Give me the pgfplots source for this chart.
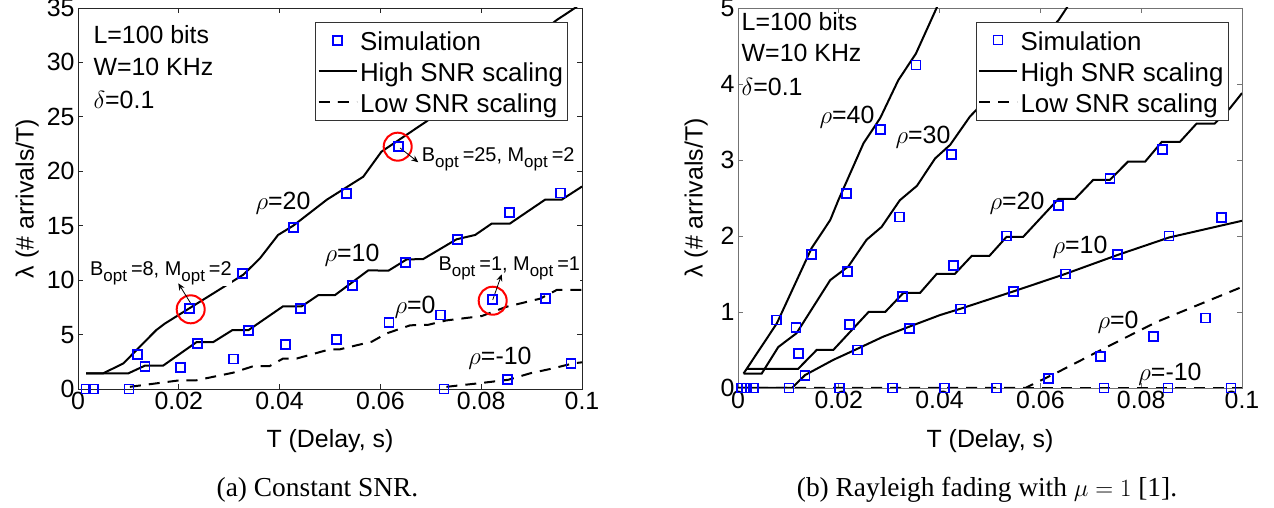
\documentclass[border=0pt]{standalone}
\usepackage{fontspec}
\setmainfont{Liberation Sans}
\newfontfamily\serif{Liberation Serif}
\usepackage{pgfplots}
\pgfplotsset{compat=1.18}
\usetikzlibrary{arrows.meta}
\newcommand\fs{\fontsize{25}{30}\selectfont}
\newcommand\fl{\fontsize{26}{30}\selectfont}
\newcommand\fb{\fontsize{20}{24}\selectfont}
\newcommand\sub{\raisebox{-6bp}{\fontsize{17}{17}\selectfont opt}\hspace{4bp}}
\definecolor{simblue}{RGB}{0,0,255}

\pgfplotsset{
 mystyle/.style={
  scale only axis, width=504bp,
  xmin=0,xmax=0.1,
  xtick={0,0.02,0.04,0.06,0.08,0.1},
  xticklabels={0,0.02,0.04,0.06,0.08,0.1},
  tick align=inside, major tick length=5bp,
  font=\fs, ticklabel style={font=\fs},
  /pgf/number format/assume math mode=true,
  xlabel={T (Delay, s)}, ylabel={λ (\# arrivals/T)},
  legend cell align=left,
  legend style={font=\fl, draw=black!80, line width=0.8bp, anchor=north east, inner xsep=2bp, inner ysep=5.5bp, row sep=6bp, nodes={inner xsep=2.5bp, inner ysep=0pt, text height=22.5bp, text depth=2.5bp}},
  legend image code/.code={\draw[mark repeat=2,mark phase=2,##1] plot coordinates {(0bp,0bp) (19bp,0bp) (38bp,0bp)};},
 },
 sim/.style={only marks, mark=square, mark size=4.5bp, simblue, line width=1.8bp},
 hi/.style={black, line width=2bp, mark=none},
 lo/.style={black, line width=2bp, dash pattern=on 11bp off 8bp, mark=none},
}

\begin{document}
\begin{tikzpicture}
\useasboundingbox (0bp,0bp) rectangle (1274bp,508bp);

% ---------------- (a) ----------------
\begin{axis}[mystyle, at={(78bp,119bp)}, anchor=south west, height=381bp,
  ymin=0, ymax=35, ytick={0,5,...,35},
  axis line style={black!85, line width=0.8bp}, tick style={black!85, line width=0.8bp},
  xlabel style={at={(axis description cs:0.5,-0.1365)}, anchor=center},
  ylabel style={at={(axis description cs:-0.101,0.5)}, anchor=center},
  legend style={at={(axis description cs:0.972,0.963)}}]
\addplot[sim] coordinates {(0.0016,0) (0.003,0) (0.0101,0) (0.0118,3.2) (0.0133,2.1) (0.0204,2.0) (0.0222,7.4) (0.0237,4.2) (0.0308,2.75) (0.0326,10.6) (0.0339,5.4) (0.0411,4.1) (0.0427,14.8) (0.0442,7.4) (0.0513,4.55) (0.0533,17.98) (0.0544,9.5) (0.0617,6.1) (0.0636,22.25) (0.0649,11.6) (0.072,6.8) (0.0726,0) (0.0753,13.75) (0.0822,8.2) (0.0852,0.9) (0.0856,16.2) (0.0927,8.3) (0.0958,18.0) (0.0978,2.35)};
\addlegendentry{Simulation}
% rho=20
\addplot[hi] coordinates {(0.0016,1.44) (0.005,1.44) (0.009,2.35) (0.0123,3.9) (0.0155,5.4) (0.0172,6.0) (0.0328,10.5) (0.0361,12.0) (0.0397,14.15) (0.0427,15.0) (0.0494,17.4) (0.0566,19.5) (0.0602,21.8) (0.0692,24.6) (0.095,33.9) (0.0986,35) (0.1,35.5)};
\addlegendentry{High SNR scaling}
% rho=0
\addplot[lo] coordinates {(0.0103,0.2) (0.0202,0.8) (0.0235,0.8) (0.0308,1.5) (0.0348,2.1) (0.038,2.1) (0.0407,2.8) (0.0434,2.8) (0.05,3.65) (0.052,3.65) (0.0583,4.35) (0.0612,5.1) (0.0659,5.85) (0.0695,5.9) (0.0731,6.3) (0.0801,6.7) (0.085,7.55) (0.0917,8.3) (0.095,9.1) (0.1,9.1)};
\addlegendentry{Low SNR scaling}
% rho=10
\addplot[hi,forget plot] coordinates {(0.0016,1.44) (0.01,1.44) (0.0133,2.15) (0.0169,2.15) (0.0235,4.3) (0.0268,4.3) (0.0306,5.4) (0.0338,5.4) (0.0407,7.6) (0.0444,7.6) (0.0477,8.63) (0.051,8.63) (0.0576,10.9) (0.0616,10.87) (0.0652,11.9) (0.0685,11.94) (0.0751,13.75) (0.0788,14.15) (0.0821,15.2) (0.0857,15.2) (0.0927,17.4) (0.096,17.4) (0.1,18.6)};
% rho=-10
\addplot[lo,forget plot] coordinates {(0.0731,0.2) (0.08,0.55) (0.0854,0.85) (0.0897,1.44) (0.0943,1.9) (0.0983,2.36) (0.1,2.45)};

\node[anchor=base west, inner sep=0pt] at (axis cs:0.00304,31.76) {L=100 bits};
\node[anchor=base west, inner sep=0pt] at (axis cs:0.00304,28.84) {W=10 KHz};
\node[anchor=base west, inner sep=0pt] at (axis cs:0.00304,25.81) {$\delta$=0.1};
\node at (axis cs:0.04067,17.09) {$\rho$=20};
\node at (axis cs:0.05437,12.31) {$\rho$=10};
\node at (axis cs:0.06687,7.53) {$\rho$=0};
\node at (axis cs:0.08373,2.85) {$\rho$=-10};
\node[anchor=base west, inner xsep=0pt, inner ysep=1bp, fill=white, font=\fb] at (axis cs:0.00238,10.47) {B\sub=8, M\sub=2};
\node[anchor=base west, inner xsep=0pt, inner ysep=1bp, fill=white, font=\fb] at (axis cs:0.0682,20.88) {B\sub=25, M\sub=2};
\node[anchor=base west, inner xsep=0pt, inner ysep=1bp, fill=white, font=\fb] at (axis cs:0.0715,10.93) {B\sub=1, M\sub=1};
\draw[red, line width=2bp] (axis cs:0.02236,7.32) circle[radius=14bp];
\draw[red, line width=2bp] (axis cs:0.06343,22.26) circle[radius=14bp];
\draw[red, line width=2bp] (axis cs:0.08228,8.11) circle[radius=14bp];
\draw[-{Stealth[length=7bp,width=6bp]}, line width=0.8bp] (axis cs:0.02256,7.72) -- (axis cs:0.0199,9.71);
\draw[-{Stealth[length=7bp,width=6bp]}, line width=0.8bp] (axis cs:0.0639,22.14) -- (axis cs:0.06752,20.83);
\draw[-{Stealth[length=7bp,width=6bp]}, line width=0.8bp] (axis cs:0.08228,8.18) -- (axis cs:0.08407,10.54);
\end{axis}

% ---------------- (b) ----------------
\begin{axis}[mystyle, at={(738bp,120bp)}, anchor=south west, height=380bp,
  ymin=0, ymax=5, ytick={0,1,...,5},
  axis line style={black!55, line width=0.8bp}, tick style={black!55, line width=0.8bp},
  xlabel style={at={(axis description cs:0.5,-0.139)}, anchor=center},
  ylabel style={at={(axis description cs:-0.083,0.5)}, anchor=center},
  legend style={at={(axis description cs:0.973,0.964)}}]
\addplot[sim] coordinates {(0.0007,0) (0.0017,0) (0.003,0) (0.0101,0) (0.0202,0) (0.0307,0) (0.0409,0) (0.0513,0) (0.0726,0) (0.0853,0) (0.0978,0) (0.0077,0.895) (0.0115,0.80) (0.012,0.45) (0.0133,0.16) (0.0146,1.76) (0.0216,2.56) (0.0218,1.53) (0.0222,0.84) (0.0237,0.5) (0.0283,3.40) (0.0321,2.25) (0.0326,1.2) (0.034,0.78) (0.0353,4.25) (0.0424,3.07) (0.0427,1.61) (0.0442,1.04) (0.0533,2.0) (0.0546,1.27) (0.0616,0.12) (0.0636,2.40) (0.0649,1.50) (0.072,0.41) (0.0738,2.76) (0.0753,1.76) (0.0824,0.675) (0.0843,3.14) (0.0855,2.0) (0.0927,0.92) (0.096,2.24)};
\addlegendentry{Simulation}
% rho=40
\addplot[hi] coordinates {(0.0011,0.19) (0.0077,0.85) (0.0146,1.84) (0.0183,2.21) (0.0199,2.47) (0.0249,3.22) (0.0282,3.55) (0.0318,4.05) (0.0353,4.40) (0.0394,5.0) (0.041,5.25)};
\addlegendentry{High SNR scaling}
% rho=0
\addplot[lo] coordinates {(0,0) (0.057,0) (0.0632,0.2) (0.0732,0.54) (0.0831,0.87) (0.1,1.33)};
\addlegendentry{Low SNR scaling}
% rho=30
\addplot[hi,forget plot] coordinates {(0.0011,0.19) (0.0047,0.19) (0.008,0.54) (0.0116,0.72) (0.0183,1.42) (0.0219,1.60) (0.0255,1.95) (0.0285,2.12) (0.0321,2.47) (0.0355,2.66) (0.0391,3.02) (0.0421,3.2) (0.046,3.57) (0.055,4.2) (0.0636,4.84) (0.0652,5.0) (0.067,5.2)};
% rho=20
\addplot[hi,forget plot] coordinates {(0.0017,0.25) (0.0119,0.25) (0.0156,0.5) (0.0189,0.5) (0.0259,1.0) (0.0292,1.0) (0.0328,1.25) (0.0361,1.25) (0.0394,1.5) (0.043,1.5) (0.0464,1.74) (0.0499,1.74) (0.0533,1.99) (0.0566,1.99) (0.0636,2.49) (0.0669,2.49) (0.0705,2.74) (0.0738,2.74) (0.0774,2.98) (0.0808,2.98) (0.0841,3.24) (0.0877,3.24) (0.091,3.48) (0.0946,3.48) (0.0976,3.68) (0.1,3.88)};
% rho=10
\addplot[hi,forget plot] coordinates {(0,0) (0.0107,0) (0.0133,0.17) (0.0189,0.37) (0.0235,0.51) (0.0288,0.675) (0.0341,0.81) (0.0401,0.96) (0.044,1.04) (0.0546,1.27) (0.0649,1.50) (0.0753,1.75) (0.0855,1.98) (0.1,2.20)};
% rho=-10
\addplot[lo,forget plot] coordinates {(0,0) (0.1,0)};

\node[anchor=base west, inner sep=0pt] at (axis cs:0.0007,4.71) {L=100 bits};
\node[anchor=base west, inner sep=0pt] at (axis cs:0.0007,4.29) {W=10 KHz};
\node[anchor=base west, inner sep=0pt] at (axis cs:0.0007,3.855) {$\delta$=0.1};
\node at (axis cs:0.02163,3.566) {$\rho$=40};
\node at (axis cs:0.0367,3.30) {$\rho$=30};
\node at (axis cs:0.05536,2.434) {$\rho$=20};
\node at (axis cs:0.06786,1.855) {$\rho$=10};
\node at (axis cs:0.0754,0.868) {$\rho$=0};
\node at (axis cs:0.08571,0.184) {$\rho$=-10};
\end{axis}

\node[font=\serif\fontsize{27.5}{32}\selectfont] at (317.5bp,18bp) {(a) Constant SNR.};
\node[font=\serif\fontsize{27.5}{32}\selectfont] at (987bp,18bp) {(b) Rayleigh fading with $\mu=1$ [1].};
\end{tikzpicture}
\end{document}
